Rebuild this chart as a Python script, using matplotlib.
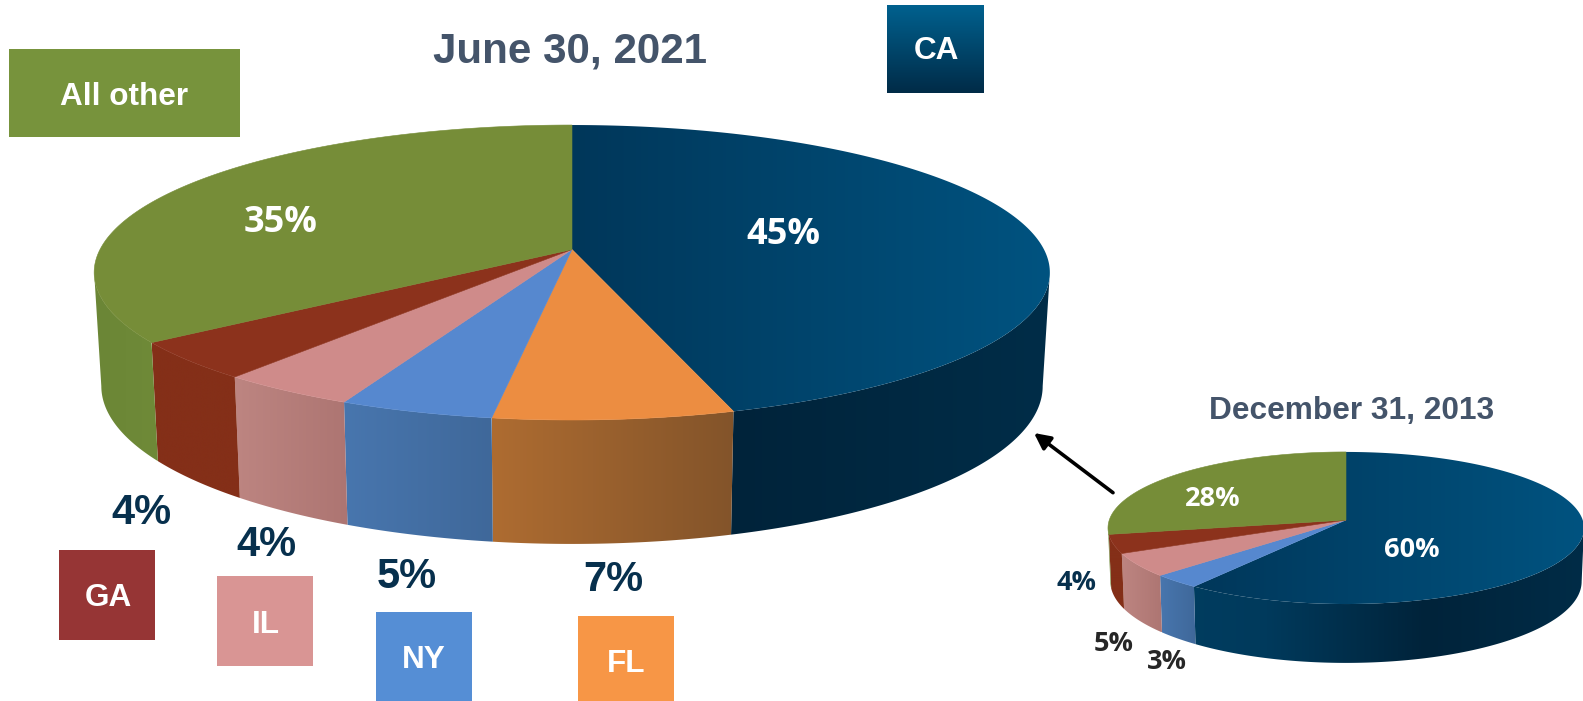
# plot.py - two perspective 3D pies, drawn by hand on one pixel-sized axes
import numpy as np
import matplotlib
matplotlib.use("Agg")
import matplotlib.pyplot as plt
from matplotlib.colors import LinearSegmentedColormap
from matplotlib.patches import Polygon, Rectangle

main_states = ["CA", "FL", "NY", "IL", "GA", "All other"]
# shares, the printed labels are rounded
main_values = [45.3, 7.0, 4.5, 4.0, 4.2, 35.0]
main_labels = ["45%", "7%", "5%", "4%", "4%", "35%"]
small_states = ["CA", "NY", "IL", "GA", "All other"]
small_values = [60, 3, 5, 4, 28]
small_labels = ["60%", "3%", "5%", "4%", "28%"]

main_title = "June 30, 2021"
small_title = "December 31, 2013"

# top colours (left, right) and side colours (left, right)
top_colors = {
    "CA": ("#00375a", "#005380"),
    "FL": ("#ec8d41", "#ec8d41"),
    "NY": ("#5688cf", "#5688cf"),
    "IL": ("#cf8b8a", "#cf8b8a"),
    "GA": ("#8c321c", "#8c321c"),
    "All other": ("#768d38", "#768d38"),
}
side_colors = {
    "FL": ("#ae6c31", "#83542a"),
    "NY": ("#4876ae", "#3f689a"),
    "IL": ("#bd8581", "#ad7572"),
    "GA": ("#842f18", "#842f18"),
    "All other": ("#6b8636", "#6f8a38"),
}
# CA side runs over the whole pie width
ca_side_main = ["#00304d", "#002a45", "#00233a", "#002d48"]
ca_side_small = ["#003f63", "#003a5c", "#00233a", "#002c47"]

W, H = 1583, 701
fig = plt.figure(figsize=(W / 100, H / 100), dpi=100)
ax = fig.add_axes([0, 0, 1, 1])
ax.set_axis_off()


def rim(pct0, pct1, a, b, k):
    # edge of the disc between two cumulative percents, clockwise from the top
    t = np.radians(np.linspace(pct0, pct1, 200) * 3.6)
    u, v = np.sin(t), -np.cos(t)
    d = 1 - k * v
    return a * u / d, b * v / d


def grad_fill(xy, colors, zorder, horizontal=True, xrange=None):
    xy = np.asarray(xy)
    patch = Polygon(xy, closed=True, fc="none", ec="none")
    ax.add_patch(patch)
    cmap = LinearSegmentedColormap.from_list("g", colors)
    ramp = np.linspace(0, 1, 256)
    ramp = ramp[None, :] if horizontal else ramp[:, None]
    x0, x1 = xrange if xrange else (xy[:, 0].min(), xy[:, 0].max())
    im = ax.imshow(ramp, cmap=cmap, vmin=0, vmax=1, aspect="auto", zorder=zorder,
                   extent=[x0, x1, xy[:, 1].max(), xy[:, 1].min()])
    im.set_clip_path(patch)


def pie3d(states, values, ca_side, cx, cy, a, b, k, sx, sy, dy):
    edges = np.cumsum([0] + list(values))
    # only the front of the wall shows, between the two widest points of the rim
    p_right = np.degrees(np.arccos(-k)) / 3.6
    p_left = 100 - p_right
    width = a / np.sqrt(1 - k * k)
    for i, st in enumerate(states):
        p0, p1 = max(edges[i], p_right), min(edges[i + 1], p_left)
        if p1 <= p0:
            continue
        x, y = rim(p0, p1, a, b, k)
        side = np.r_[np.c_[cx + x, cy + y],
                     np.c_[cx + x * sx, cy + y * sy + dy][::-1]]
        if st == "CA":
            grad_fill(side, ca_side, 2, xrange=(cx - width, cx + width))
        else:
            grad_fill(side, side_colors[st], 2)
    for i, st in enumerate(states):
        x, y = rim(edges[i], edges[i + 1], a, b, k)
        top = np.r_[[[cx, cy]], np.c_[cx + x, cy + y]]
        c0, c1 = top_colors[st]
        if c0 == c1:
            ax.add_patch(Polygon(top, closed=True, fc=c0, ec=c0, lw=0.4, zorder=3))
        else:
            grad_fill(top, [c0, c1], 3)


pie3d(main_states, main_values, ca_side_main, 572, 249.5, 472, 143.9, 0.156, 0.985, 1.07, 112)
pie3d(small_states, small_values, ca_side_small, 1346, 520, 236.7, 75.2, 0.105, 0.99, 1.07, 53)

# legend boxes
boxes = [
    (9, 49, 231, 88, "#77933c"),
    (59, 550, 96, 90, "#963535"),
    (217, 576, 96, 90, "#d99594"),
    (376, 612, 96, 90, "#558ed5"),
    (578, 616, 96, 90, "#f79646"),
]
for x, y, w, h, col in boxes:
    ax.add_patch(Rectangle((x, y), w, h, fc=col, ec="none", zorder=4))

grad_fill([[887, 5], [984, 5], [984, 93], [887, 93]], ["#00618f", "#002b47"], 4, horizontal=False)
ax.set_xlim(0, W)
ax.set_ylim(H, 0)

arial = "Liberation Sans"
body = ["Open Sans", "Noto Sans"]


def label(x, y, s, size, color, family=arial):
    ax.text(x, y, s, fontsize=size, color=color, family=family, weight="bold",
            ha="center", va="center", zorder=6)


label(570, 51.5, main_title, 30.3, "#44546a")
label(1352, 411, small_title, 22.8, "#44546a")

label(124, 97, "All other", 22.7, "white")
label(936, 51, "CA", 22.7, "white")
label(108, 598, "GA", 22.7, "white")
label(266, 625, "IL", 22.7, "white")
label(424, 660, "NY", 22.7, "white")
label(626, 664, "FL", 22.7, "white")

dark = "#07304d"
label(141, 513, main_labels[4], 30, dark)
label(266, 545, main_labels[3], 30, dark)
label(407, 577, main_labels[2], 30, dark)
label(613, 580, main_labels[1], 30, dark)

label(783, 235, main_labels[0], 26, "white", body)
label(281, 223, main_labels[5], 26, "white", body)
label(1412, 550, small_labels[0], 19.5, "white", body)
label(1213, 499, small_labels[4], 19.5, "white", body)
label(1077, 583, small_labels[3], 19.5, dark, body)
label(1114, 644, small_labels[2], 19.5, "#262626", body)
label(1167, 662, small_labels[1], 19.5, "#262626", body)

ax.annotate("", xy=(1034, 433), xytext=(1113, 492.7), zorder=6,
            arrowprops=dict(arrowstyle="-|>", color="black", lw=2.6,
                            mutation_scale=24, shrinkA=0, shrinkB=0))

fig.savefig("out.png", dpi=100)
